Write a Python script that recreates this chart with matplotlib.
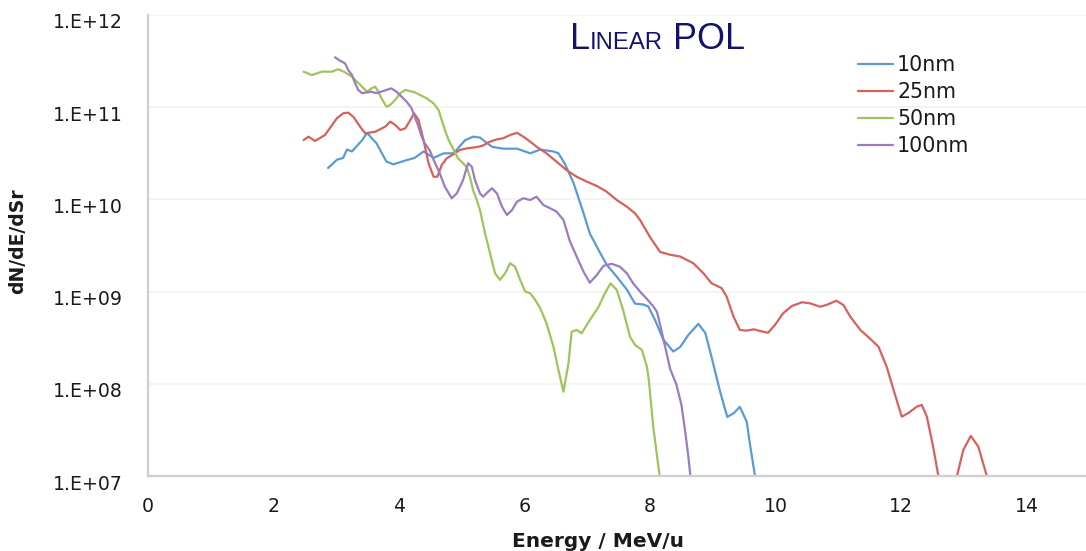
import numpy as np
import matplotlib
matplotlib.use("Agg")
import matplotlib.pyplot as plt
from matplotlib.ticker import FixedLocator, FuncFormatter, NullLocator
from matplotlib.offsetbox import TextArea, HPacker, AnchoredOffsetbox
from matplotlib.transforms import ScaledTranslation

# ---- spectra: energy (MeV/u) and dN/dE/dSr for each target thickness ----
labels = ["10nm", "25nm", "50nm", "100nm"]
colors = ["#5B9BD5", "#D6625D", "#9DC55A", "#9A7CC0"]

energy_10nm = [2.87, 3.01, 3.11, 3.17, 3.25, 3.41, 3.49, 3.64, 3.80, 3.91,
               4.09, 4.25, 4.39, 4.55, 4.71, 4.87, 5.05, 5.18, 5.29, 5.48,
               5.66, 5.88, 6.09, 6.25, 6.46, 6.54, 6.64, 6.78, 6.94, 7.04,
               7.18, 7.31, 7.47, 7.63, 7.76, 7.89, 7.97, 8.08, 8.21, 8.37,
               8.48, 8.61, 8.77, 8.88, 8.98, 9.11, 9.23, 9.33, 9.43, 9.54,
               9.59, 9.67, 9.71]
dnde_10nm = [2.19e10, 2.69e10, 2.82e10, 3.47e10, 3.31e10, 4.37e10, 5.25e10, 4.07e10, 2.57e10, 2.40e10,
             2.63e10, 2.82e10, 3.31e10, 2.82e10, 3.16e10, 3.16e10, 4.37e10, 4.79e10, 4.68e10, 3.72e10,
             3.55e10, 3.55e10, 3.16e10, 3.47e10, 3.31e10, 3.16e10, 2.45e10, 1.51e10, 7.08e9, 4.27e9,
             2.82e9, 1.95e9, 1.45e9, 1.05e9, 7.41e8, 7.24e8, 6.92e8, 4.90e8, 3.02e8, 2.24e8,
             2.51e8, 3.39e8, 4.47e8, 3.55e8, 1.95e8, 8.51e7, 4.37e7, 4.79e7, 5.62e7, 3.89e7,
             2.24e7, 1.02e7, 7.0e6]

energy_25nm = [2.48, 2.56, 2.66, 2.82, 3.01, 3.11, 3.19, 3.27, 3.38, 3.46,
               3.62, 3.78, 3.86, 3.94, 4.02, 4.10, 4.18, 4.24, 4.31, 4.39,
               4.47, 4.55, 4.61, 4.68, 4.76, 4.87, 4.97, 5.08, 5.21, 5.32,
               5.45, 5.56, 5.66, 5.77, 5.88, 5.98, 6.09, 6.19, 6.35, 6.51,
               6.67, 6.83, 6.99, 7.15, 7.31, 7.47, 7.63, 7.76, 7.84, 8.00,
               8.16, 8.32, 8.48, 8.69, 8.85, 8.98, 9.14, 9.22, 9.33, 9.43,
               9.54, 9.65, 9.75, 9.88, 9.99, 10.12, 10.26, 10.42, 10.55, 10.71,
               10.81, 10.97, 11.08, 11.19, 11.35, 11.50, 11.64, 11.77, 11.88, 12.01,
               12.11, 12.25, 12.33, 12.41, 12.51, 12.59, 12.74, 12.89, 12.99, 13.11,
               13.23, 13.36, 13.42]
dnde_25nm = [4.41e10, 4.79e10, 4.30e10, 4.99e10, 7.59e10, 8.59e10, 8.73e10, 7.89e10, 6.15e10, 5.21e10,
             5.42e10, 6.15e10, 6.97e10, 6.41e10, 5.66e10, 5.90e10, 7.26e10, 8.59e10, 7.26e10, 4.41e10,
             2.47e10, 1.76e10, 1.76e10, 2.36e10, 2.79e10, 3.10e10, 3.44e10, 3.58e10, 3.67e10, 3.79e10,
             4.23e10, 4.48e10, 4.60e10, 4.99e10, 5.28e10, 4.79e10, 4.23e10, 3.73e10, 3.16e10, 2.56e10,
             2.08e10, 1.76e10, 1.56e10, 1.40e10, 1.21e10, 9.84e9, 8.34e9, 7.06e9, 5.98e9, 3.89e9,
             2.69e9, 2.51e9, 2.40e9, 2.03e9, 1.58e9, 1.23e9, 1.09e9, 8.81e8, 5.35e8, 3.84e8,
             3.77e8, 3.90e8, 3.74e8, 3.58e8, 4.35e8, 5.82e8, 6.98e8, 7.66e8, 7.46e8, 6.85e8,
             7.16e8, 7.96e8, 7.16e8, 5.35e8, 3.84e8, 3.11e8, 2.52e8, 1.53e8, 8.57e7, 4.40e7,
             4.79e7, 5.65e7, 5.89e7, 4.40e7, 2.08e7, 1.03e7, 5.0e6, 1.0e7, 1.91e7, 2.72e7,
             2.08e7, 1.03e7, 7.0e6]

energy_50nm = [2.48, 2.61, 2.77, 2.93, 3.03, 3.14, 3.25, 3.41, 3.49, 3.56,
               3.62, 3.67, 3.72, 3.80, 3.86, 3.94, 4.02, 4.10, 4.25, 4.44,
               4.55, 4.63, 4.68, 4.73, 4.79, 4.87, 4.94, 5.02, 5.08, 5.13,
               5.18, 5.24, 5.29, 5.37, 5.45, 5.53, 5.61, 5.69, 5.77, 5.85,
               5.93, 6.01, 6.09, 6.17, 6.25, 6.35, 6.46, 6.54, 6.62, 6.70,
               6.75, 6.83, 6.91, 7.04, 7.18, 7.28, 7.37, 7.47, 7.57, 7.68,
               7.76, 7.87, 7.95, 7.98, 8.05, 8.15, 8.17]
dnde_50nm = [2.43e11, 2.23e11, 2.43e11, 2.43e11, 2.58e11, 2.39e11, 2.14e11, 1.67e11, 1.47e11, 1.60e11,
             1.67e11, 1.47e11, 1.25e11, 1.01e11, 1.06e11, 1.20e11, 1.42e11, 1.54e11, 1.45e11, 1.25e11,
             1.10e11, 9.33e10, 7.26e10, 5.66e10, 4.41e10, 3.44e10, 2.79e10, 2.47e10, 2.21e10, 1.74e10,
             1.26e10, 9.77e9, 7.67e9, 4.29e9, 2.60e9, 1.58e9, 1.34e9, 1.58e9, 2.03e9, 1.86e9,
             1.34e9, 1.00e9, 9.59e8, 8.11e8, 6.59e8, 4.53e8, 2.52e8, 1.41e8, 8.20e7, 1.67e8,
             3.67e8, 3.84e8, 3.53e8, 4.92e8, 6.85e8, 9.59e8, 1.23e9, 1.04e9, 6.31e8, 3.24e8,
             2.64e8, 2.33e8, 1.53e8, 1.10e8, 3.43e7, 1.03e7, 7.0e6]

energy_100nm = [2.98, 3.06, 3.14, 3.19, 3.25, 3.30, 3.35, 3.41, 3.56, 3.64,
                3.80, 3.88, 3.96, 4.04, 4.12, 4.20, 4.25, 4.31, 4.36, 4.41,
                4.49, 4.57, 4.65, 4.73, 4.84, 4.92, 5.02, 5.10, 5.16, 5.21,
                5.29, 5.34, 5.42, 5.48, 5.56, 5.64, 5.72, 5.80, 5.88, 5.98,
                6.09, 6.19, 6.30, 6.41, 6.51, 6.62, 6.72, 6.83, 6.94, 7.04,
                7.15, 7.26, 7.39, 7.52, 7.63, 7.73, 7.84, 7.95, 8.05, 8.11,
                8.16, 8.24, 8.32, 8.42, 8.50, 8.56, 8.61, 8.64, 8.66]
dnde_100nm = [3.48e11, 3.19e11, 2.99e11, 2.53e11, 2.23e11, 1.82e11, 1.54e11, 1.42e11, 1.47e11, 1.42e11,
              1.54e11, 1.60e11, 1.47e11, 1.30e11, 1.15e11, 9.73e10, 7.89e10, 6.15e10, 4.79e10, 4.06e10,
              3.39e10, 2.51e10, 1.91e10, 1.37e10, 1.03e10, 1.16e10, 1.62e10, 2.47e10, 2.26e10, 1.62e10,
              1.16e10, 1.07e10, 1.21e10, 1.32e10, 1.16e10, 8.34e9, 6.78e9, 7.67e9, 9.44e9, 1.03e10,
              9.84e9, 1.07e10, 8.69e9, 8.00e9, 7.36e9, 5.98e9, 3.55e9, 2.40e9, 1.64e9, 1.25e9,
              1.51e9, 1.91e9, 2.00e9, 1.86e9, 1.58e9, 1.23e9, 1.00e9, 8.32e8, 6.92e8, 6.03e8,
              4.37e8, 2.52e8, 1.45e8, 9.77e7, 5.89e7, 3.02e7, 1.62e7, 1.03e7, 8.0e6]

x_ticks = [0, 2, 4, 6, 8, 10, 12, 14]
y_ticks = [1e7, 1e8, 1e9, 1e10, 1e11, 1e12]

series = [(energy_10nm, dnde_10nm), (energy_25nm, dnde_25nm),
          (energy_50nm, dnde_50nm), (energy_100nm, dnde_100nm)]

W, H = 1086, 551
fig = plt.figure(figsize=(W / 100, H / 100), dpi=100)
fig.patch.set_facecolor("white")
ax = fig.add_axes([148 / W, 1 - 476 / H, 1 - 148 / W, (476 - 15) / H])

for (e, v), lab, col in zip(series, labels, colors):
    ax.plot(e, v, color=col, lw=1.6, label=lab, solid_joinstyle="round",
            solid_capstyle="round", zorder=3)

ax.set_yscale("log")
ax.set_xlim(0, (W - 148) / 62.76)
ax.set_ylim(1e7, 1e12)

ax.xaxis.set_major_locator(FixedLocator(x_ticks))
ax.yaxis.set_major_locator(FixedLocator(y_ticks))
ax.yaxis.set_minor_locator(NullLocator())
ax.yaxis.set_major_formatter(FuncFormatter(lambda v, p: "1.E+%02d" % int(round(np.log10(v)))))

ax.grid(axis="y", color="#f3f3f3", lw=1.3, zorder=0)
ax.grid(axis="x", visible=False)
for s in ("top", "right"):
    ax.spines[s].set_visible(False)
for s in ("left", "bottom"):
    ax.spines[s].set_color("#d0d0d0")
    ax.spines[s].set_linewidth(1.7)
    ax.spines[s].set_zorder(4)

ax.tick_params(axis="both", length=0, labelsize=13.6, labelcolor="#1a1a1a")
ax.tick_params(axis="x", pad=15)
ax.tick_params(axis="y", pad=18)

shift = ScaledTranslation(0, -6 / 100, fig.dpi_scale_trans)
for lbl in ax.get_yticklabels():
    lbl.set_transform(lbl.get_transform() + shift)

fig.text(17.5 / W, 1 - 241.5 / H, "dN/dE/dSr", rotation=90, ha="center", va="center",
         fontsize=13.5, fontweight="bold", color="#1a1a1a")
fig.text(597.5 / W, 1 - 547 / H, "Energy / MeV/u", ha="center", va="baseline",
         fontsize=14.5, fontweight="bold", color="#1a1a1a")

# small-caps style heading
navy = "#12126E"
big = dict(fontsize=25.8, color=navy, family="Liberation Sans")
small = dict(fontsize=17.2, color=navy, family="Liberation Sans")
heading = HPacker(children=[TextArea("L", textprops=big),
                            TextArea("INEAR", textprops=small),
                            TextArea(" POL", textprops=big)],
                  align="baseline", pad=0, sep=0)
fig.add_artist(AnchoredOffsetbox(loc="lower left", child=heading, pad=0, borderpad=0,
                                 frameon=False, bbox_to_anchor=(570 / W, 1 - 57 / H),
                                 bbox_transform=fig.transFigure))

ax.legend(loc="upper left", bbox_to_anchor=(858 / W, 1 - 55 / H),
          bbox_transform=fig.transFigure, frameon=False, fontsize=14.8,
          handlelength=1.7, handletextpad=0.2, labelspacing=0.34,
          borderpad=0, borderaxespad=0, labelcolor="#1a1a1a")

fig.savefig("out.png", dpi=100, facecolor="white")
